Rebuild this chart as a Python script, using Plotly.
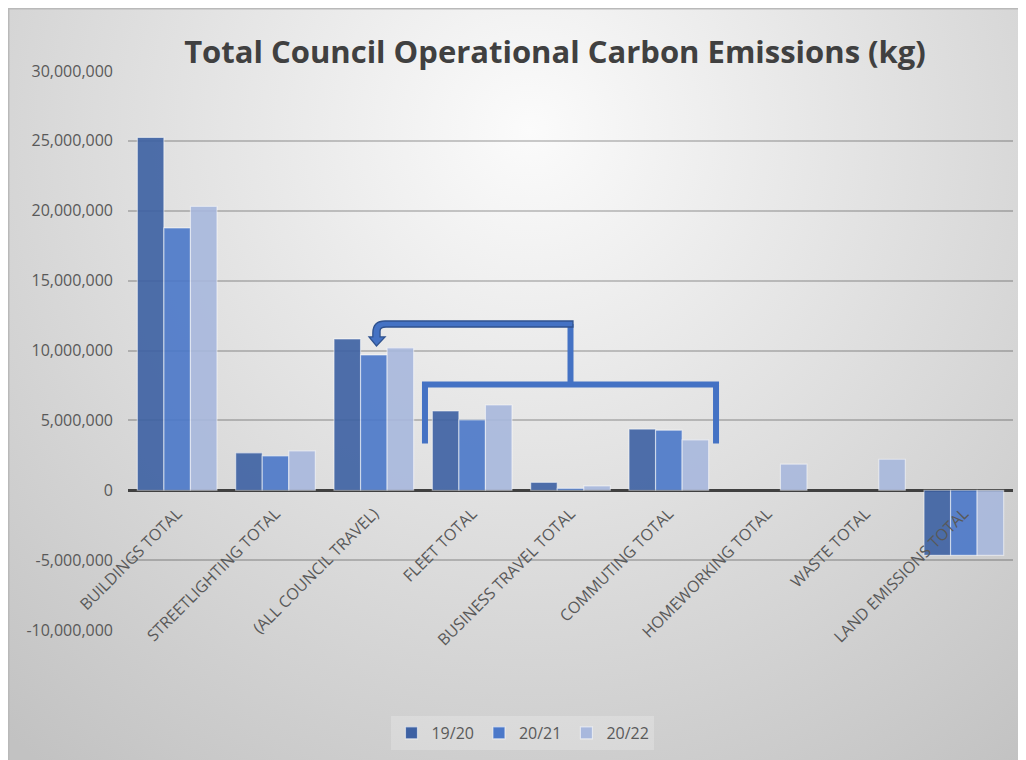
import base64
import plotly.graph_objects as go

# ---------------- data ----------------
categories = [
    "BUILDINGS TOTAL", "STREETLIGHTING TOTAL", "(ALL COUNCIL TRAVEL)", "FLEET TOTAL",
    "BUSINESS TRAVEL TOTAL", "COMMUTING TOTAL", "HOMEWORKING TOTAL", "WASTE TOTAL",
    "LAND EMISSIONS TOTAL",
]
series_names = ["19/20", "20/21", "20/22"]
values_1920 = [25250000, 2680000, 10830000, 5670000, 570000, 4380000, None, None, -4660000]
values_2021 = [18770000, 2460000, 9680000, 5040000, 140000, 4300000, None, None, -4660000]
values_2022 = [20320000, 2820000, 10190000, 6100000, 310000, 3610000, 1870000, 2220000, -4660000]
y_tick_vals = [-10000000, -5000000, 0, 5000000, 10000000, 15000000, 20000000, 25000000, 30000000]
y_tick_text = [f"{v:,}" for v in y_tick_vals]
title_text = "Total Council Operational Carbon Emissions (kg)"

# ---------------- style ----------------
colors = ["rgb(61,97,163)", "rgb(75,120,201)", "rgb(168,184,221)"]
FONT = "Open Sans"
W, H = 1018, 752
L, R, T, B = 120, 13, 63, 130
PW, PH = W - L - R, H - T - B
ymin, ymax = y_tick_vals[0], y_tick_vals[-1]

fig = go.Figure()
for name, vals, col in zip(series_names, [values_1920, values_2021, values_2022], colors):
    fig.add_trace(go.Bar(
        x=categories, y=vals, name=name,
        marker=dict(color=col, opacity=0.9,
                    line=dict(color="rgba(255,255,255,0.55)", width=1.2)),
    ))

# radial gradient background (chart area)
cx, cy, rad = 522, 122, 800
svg = (
    f'<svg xmlns="http://www.w3.org/2000/svg" width="{W}" height="{H}" viewBox="0 0 {W} {H}" preserveAspectRatio="none">'
    f'<defs><radialGradient id="g" gradientUnits="userSpaceOnUse" cx="{cx}" cy="{cy}" r="{rad}">'
    '<stop offset="0" stop-color="#fbfbfb"/><stop offset="1" stop-color="#c2c2c2"/>'
    '</radialGradient></defs>'
    f'<rect x="0" y="0" width="{W}" height="{H}" fill="url(#g)"/></svg>'
)
src = "data:image/svg+xml;base64," + base64.b64encode(svg.encode()).decode()

fig.add_layout_image(dict(
    source=src, xref="paper", yref="paper",
    x=-L / PW, y=1 + T / PH, sizex=W / PW, sizey=H / PH,
    xanchor="left", yanchor="top", sizing="stretch", layer="below",
))

shapes = []
# chart frame (top and left edges visible)
shapes.append(dict(type="path", xref="paper", yref="paper",
                   path=f"M {-L / PW + 0.0005},{-B / PH - 0.01} L {-L / PW + 0.0005},{1 + T / PH - 0.001} L {1 + R / PW + 0.01},{1 + T / PH - 0.001}",
                   line=dict(color="#b9b9b9", width=2)))

# bracket over FLEET .. COMMUTING
brk_left, brk_right, brk_mid = 2.52, 5.48, 4.0
brk_top, brk_bottom, stem_top = 7.57e6, 3.35e6, 11.9e6
shapes.append(dict(type="path", xref="x", yref="y",
                   path=f"M {brk_left},{brk_bottom} L {brk_left},{brk_top} L {brk_right},{brk_top} L {brk_right},{brk_bottom}",
                   line=dict(color="#4472C4", width=6)))
shapes.append(dict(type="path", xref="x", yref="y",
                   path=f"M {brk_mid},{brk_top} L {brk_mid},{stem_top}",
                   line=dict(color="#4472C4", width=6)))
# bent arrow pointing to (ALL COUNCIL TRAVEL)
arrow_path = (
    "M 4.025,12110000 L 2.114,12110000 Q 1.99,12110000 1.99,11250000 "
    "L 1.99,10970000 L 1.951,10970000 L 2.027,10320000 L 2.114,10970000 "
    "L 2.063,10970000 L 2.063,11400000 Q 2.063,11680000 2.124,11680000 "
    "L 4.025,11680000 Z"
)
shapes.append(dict(type="path", xref="x", yref="y", path=arrow_path,
                   fillcolor="#4472C4", line=dict(color="#2F528F", width=1.3)))

fig.update_layout(
    width=W, height=H,
    margin=dict(l=L, r=R, t=T, b=B, autoexpand=False),
    paper_bgcolor="#d8d8d8", plot_bgcolor="rgba(0,0,0,0)",
    font=dict(family=FONT, color="#595959"),
    title=dict(text=f"<b>{title_text}</b>", x=547 / W, xanchor="center", xref="container",
               y=1 - 44 / H, yanchor="middle", yref="container",
               font=dict(family=FONT, size=31, color="#404040")),
    barmode="group", bargap=0.19, bargroupgap=0,
    showlegend=True,
    legend=dict(orientation="h", x=0.4463, xanchor="center", y=-0.1538, yanchor="top",
                bgcolor="rgba(255,255,255,0.22)", borderwidth=0,
                font=dict(family=FONT, size=16, color="#595959")),
    shapes=shapes,
)
fig.update_xaxes(type="category", anchor="free", position=(0 - ymin) / (ymax - ymin),
                 showgrid=False, showline=False, ticks="", tickangle=-45, ticklabelstandoff=10,
                 tickfont=dict(family=FONT, size=16, color="#595959"), fixedrange=True)
fig.update_yaxes(range=[ymin, ymax], tickvals=y_tick_vals, ticktext=y_tick_text,
                 showgrid=True, gridcolor="rgba(0,0,0,0.2)", gridwidth=1.5,
                 zeroline=True, zerolinecolor="#404040", zerolinewidth=2.5,
                 showline=False, ticks="", ticklabelstandoff=14,
                 tickfont=dict(family=FONT, size=16, color="#595959"), fixedrange=True)

fig.write_html("out.html")
